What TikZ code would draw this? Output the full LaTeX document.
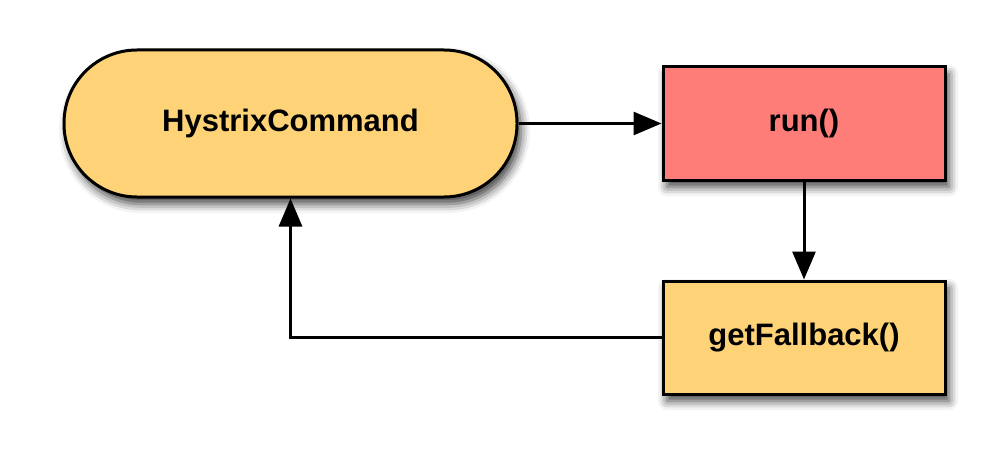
\documentclass[tikz,border=0pt]{standalone}
\usepackage{fontspec}
\setmainfont{Liberation Sans}
\usetikzlibrary{arrows.meta,shadows.blur}

\definecolor{boxyellow}{RGB}{254,211,120}
\definecolor{boxred}{RGB}{255,125,121}

\tikzset{
  block/.style={draw=black, line width=3pt, inner sep=0pt,
    font=\fontsize{31}{37}\selectfont\bfseries,
    blur shadow={shadow xshift=4pt, shadow yshift=-7pt,
      shadow blur radius=9pt, shadow opacity=75}},
  flow/.style={line width=3pt, -{Triangle[length=28pt,width=23pt]}},
}

\begin{document}
\begin{tikzpicture}[x=1pt,y=-1pt]
  % canvas
  \useasboundingbox (0,0) rectangle (1006,468);

  % the command object
  \node[block, fill=boxyellow, rounded corners=73pt,
        minimum width=453pt, minimum height=147pt] (hc) at (290.5,123.5) {HystrixCommand};

  % primary execution
  \node[block, fill=boxred, minimum width=282pt, minimum height=113pt] (run) at (804,123.5) {run()};

  % fallback path
  \node[block, fill=boxyellow, minimum width=282pt, minimum height=113pt] (fb) at (804,337.5) {getFallback()};

  % connectors
  \draw[flow] (hc.east) -- (run.west);
  \draw[flow] (run.south) -- (fb.north);
  \draw[flow] (fb.west) -| (hc.south);
\end{tikzpicture}
\end{document}
